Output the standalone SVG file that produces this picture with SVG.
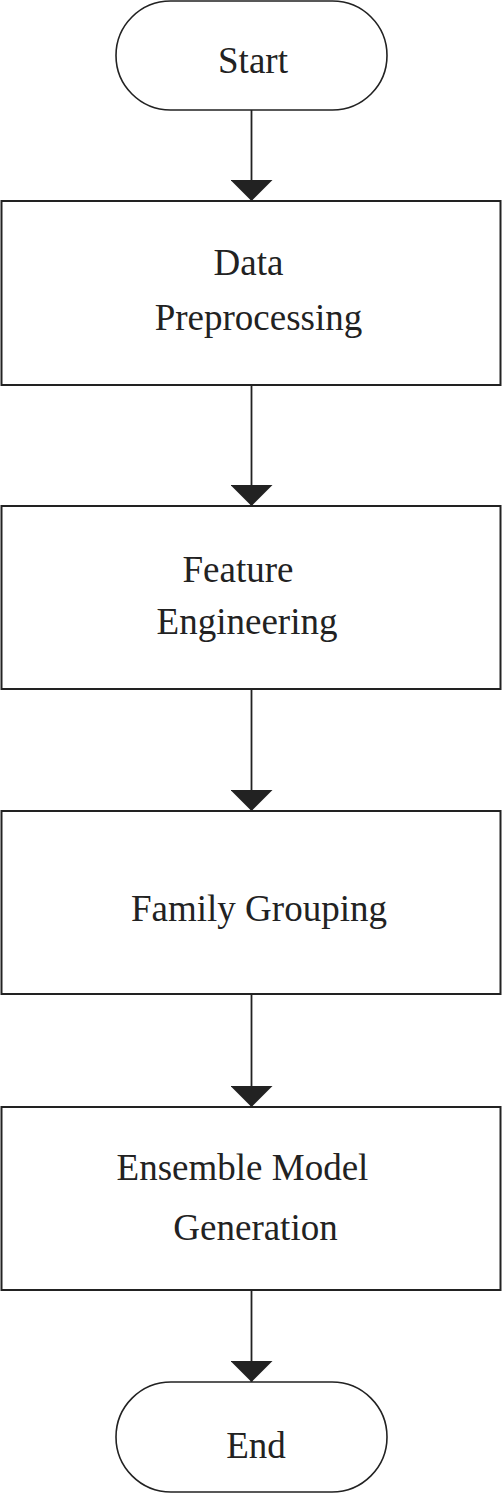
<svg xmlns="http://www.w3.org/2000/svg" width="502" height="1494" viewBox="0 0 502 1494">
<style>
.term{fill:#fff;stroke:#222;stroke-width:1.6}
.box{fill:#fff;stroke:#222;stroke-width:2}
.lbl{font-family:"Liberation Serif","Times New Roman",serif;font-size:37px;fill:#222;text-anchor:middle}
.edge{stroke:#222;stroke-width:1.8;fill:none;marker-end:url(#ah)}
</style>
<defs>
<marker id="ah" markerUnits="userSpaceOnUse" markerWidth="21" markerHeight="42" refX="21" refY="21" orient="auto" viewBox="0 0 21 42">
<path d="M0,0 L21,21 L0,42 Z" fill="#222"/>
</marker>
</defs>
<g id="connectors">
<path class="edge" d="M251.5,110 V201"/>
<path class="edge" d="M251.5,385 V506"/>
<path class="edge" d="M251.5,689 V811"/>
<path class="edge" d="M251.5,994 V1107"/>
<path class="edge" d="M251.5,1290 V1382"/>
</g>
<g id="start">
<rect class="term" x="116" y="1" width="271" height="109" rx="54.5"/>
<text class="lbl" x="253" y="73">Start</text>
</g>
<g id="data-preprocessing">
<rect class="box" x="1.5" y="201" width="499" height="184"/>
<text class="lbl" x="248.5" y="275">Data</text>
<text class="lbl" x="258.5" y="330">Preprocessing</text>
</g>
<g id="feature-engineering">
<rect class="box" x="1.5" y="506" width="499" height="183"/>
<text class="lbl" x="238" y="582">Feature</text>
<text class="lbl" x="247" y="634">Engineering</text>
</g>
<g id="family-grouping">
<rect class="box" x="1.5" y="811" width="499" height="183"/>
<text class="lbl" x="259" y="921">Family Grouping</text>
</g>
<g id="ensemble-model-generation">
<rect class="box" x="1.5" y="1107" width="499" height="183"/>
<text class="lbl" x="242.5" y="1180">Ensemble Model</text>
<text class="lbl" x="255.5" y="1240">Generation</text>
</g>
<g id="end">
<rect class="term" x="116" y="1382" width="271" height="110" rx="55"/>
<text class="lbl" x="256" y="1458">End</text>
</g>
</svg>
